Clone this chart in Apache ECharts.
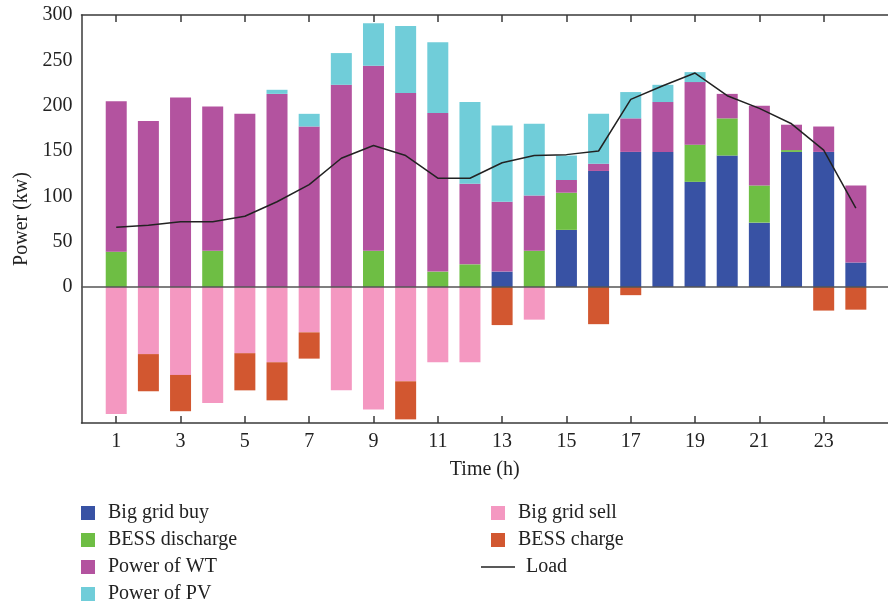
<!DOCTYPE html>
<html><head><meta charset="utf-8">
<script src="https://cdn.jsdelivr.net/npm/echarts@6/dist/echarts.min.js"></script>
<style>html,body{margin:0;padding:0;background:#fff}#c{width:888px;height:603px}</style>
</head><body><div id="c"></div>
<script>
const hours = [1,2,3,4,5,6,7,8,9,10,11,12,13,14,15,16,17,18,19,20,21,22,23,24];
const bigGridBuy = [0,0,0,0,0,0,0,0,0,0,0,0,17,0,63,128,149,149,116,145,71,149,149,27];
const bessDischarge = [39,0,0,40,0,0,0,0,40,0,17,25,0,40,41,0,0,0,41,41,41,2,0,0];
const powerWT = [166,183,209,159,191,213,177,223,204,214,175,89,77,61,14,8,37,55,69,27,88,28,28,85];
const powerPV = [0,0,0,0,0,4.5,14,35,47,74,78,90,84,79,27,55,29,19,11,0,0,0,0,0];
const bigGridSell = [-140,-74,-97,-128,-73,-83,-50,-114,-135,-104,-83,-83,0,-36,0,0,0,0,0,0,0,0,0,0];
const bessCharge = [0,-41,-40,0,-41,-42,-29,0,0,-42,0,0,-42,0,0,-41,-9,0,0,0,0,0,-26,-25];
const load = [66,68,72,72,78,94,113,142,156,145,120,120,137,145,146,150,207,222,236,211,197,180,151,87];
const xTicks = [1,3,5,7,9,11,13,15,17,19,21,23];

const FONT = '"Liberation Serif", "Times New Roman", serif';
const FS = 20;
// value first so that the stacked dimension is the y value
const pair = arr => hours.map((h,i)=>[arr[i], h]);
const barSeries = (name, arr, color) => ({
  name, type:'bar', stack:'p', stackStrategy:'samesign', barWidth:21,
  dimensions:['val','hour'], encode:{x:'hour', y:'val'},
  data: pair(arr), itemStyle:{color}, emphasis:{disabled:true}
});
const chart = echarts.init(document.getElementById('c'), null, {renderer:'canvas'});
const axisCol = '#3a3a3a';
const txt = {fontFamily:FONT, fontSize:FS, color:'#222'};
const legTxt = pad => ({fontFamily:FONT, fontSize:FS, color:'#222', padding:[0,0,0,pad]});
const sqLegend = (left, top, data) => ({
  orient:'vertical', left, top, padding:0, itemWidth:14, itemHeight:14, itemGap:7,
  icon:'rect', textStyle:legTxt(8), data
});
chart.setOption({
  animation:false,
  textStyle:{fontFamily:FONT},
  grid:{left:81.5, right:-8, top:15, bottom:180, containLabel:false},
  xAxis:[{
    type:'value', position:'bottom', min:-0.08, max:25,
    name:'Time (h)', nameLocation:'middle', nameGap:37,
    nameTextStyle:txt,
    axisLine:{onZero:false, lineStyle:{color:axisCol, width:1.5}},
    axisTick:{inside:true, length:7, customValues:xTicks, lineStyle:{color:axisCol, width:1.5}},
    axisLabel:Object.assign({customValues:xTicks, margin:9}, txt),
    splitLine:{show:false}
  },{
    type:'value', position:'top', min:-0.08, max:25,
    axisLine:{onZero:false, lineStyle:{color:axisCol, width:1.5}},
    axisTick:{inside:true, length:7, customValues:xTicks, lineStyle:{color:axisCol, width:1.5}},
    axisLabel:{show:false}, splitLine:{show:false}
  }],
  yAxis:{
    type:'value', min:-150, max:300, interval:50,
    name:'Power (kw)', nameLocation:'middle', nameGap:50, nameRotate:90,
    nameTextStyle:txt,
    axisLine:{show:true, onZero:false, lineStyle:{color:axisCol, width:1.5}},
    axisTick:{show:false},
    axisLabel:Object.assign({margin:9, formatter: v => v >= 0 ? String(v) : ''}, txt),
    splitLine:{show:false}
  },
  legend:[
    sqLegend(81, 503, ['Big grid buy','BESS discharge','Power of WT']),
    sqLegend(81, 584, ['Power of PV']),
    sqLegend(491, 503, ['Big grid sell','BESS charge']),
    {
      orient:'vertical', left:481, top:557, padding:0, itemWidth:34, itemHeight:14,
      textStyle:legTxt(6),
      data:[{name:'Load', icon:'path://M0,0 L34,0 L34,1.5 L0,1.5 Z', itemStyle:{color:'#222'}}]
    }
  ],
  series:[
    barSeries('Big grid buy', bigGridBuy, '#3852A4'),
    barSeries('BESS discharge', bessDischarge, '#6EBE44'),
    barSeries('Power of WT', powerWT, '#B3539F'),
    barSeries('Power of PV', powerPV, '#70CDD9'),
    barSeries('Big grid sell', bigGridSell, '#F498C1'),
    barSeries('BESS charge', bessCharge, '#D25730'),
    {
      name:'Load', type:'line', dimensions:['val','hour'], encode:{x:'hour', y:'val'},
      data:pair(load), symbol:'none', z:5,
      lineStyle:{color:'#222', width:1.5}, itemStyle:{color:'#222'},
      markLine:{silent:true, symbol:'none', label:{show:false},
        lineStyle:{color:'#555', width:1.5, type:'solid'}, data:[{yAxis:0}]}
    }
  ]
});
</script></body></html>
